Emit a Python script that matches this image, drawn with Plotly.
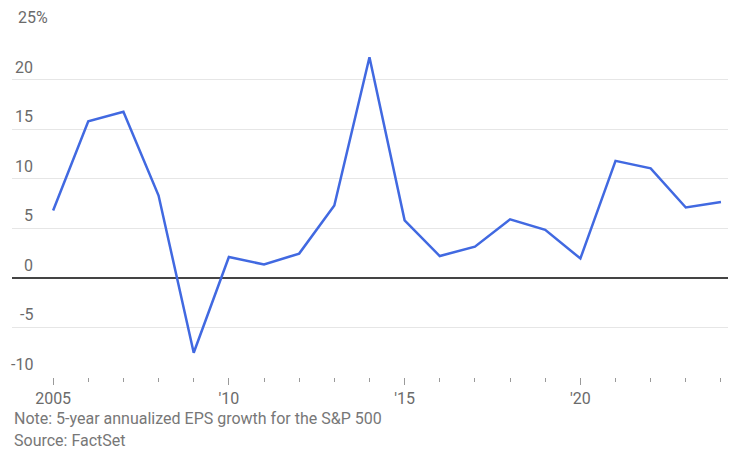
import plotly.graph_objects as go

years = list(range(2005, 2025))
eps_growth = [6.8, 15.8, 16.75, 8.3, -7.55, 2.1, 1.35, 2.45, 7.3, 22.25,
              5.8, 2.2, 3.15, 5.9, 4.85, 1.95, 11.8, 11.05, 7.1, 7.65]

y_ticks = [25, 20, 15, 10, 5, 0, -5, -10]
y_tick_text = ["25%", "20", "15", "10", "5", "0", "-5", "-10"]
x_major = [2005, 2010, 2015, 2020]
x_major_text = ["2005", "'10", "'15", "'20"]
note = "Note: 5-year annualized EPS growth for the S&P 500"
source = "Source: FactSet"

# page has an 8px body margin; figure sized to fill the rest of the window
W, H = 735, 445
ml, mr, mt, mb = 4, 15, 22, 76
pw = W - ml - mr
ph = H - mt - mb
plot_bottom = H - mb

fig = go.Figure()
fig.add_trace(go.Scatter(x=years, y=eps_growth, mode="lines",
                         line=dict(color="#4169E1", width=2.5),
                         hoverinfo="x+y", showlegend=False))

font_fam = "Roboto, Arial, sans-serif"
label_color = "#6b6b6b"

annotations = []
for v, t in zip(y_ticks, y_tick_text):
    if t.endswith("%"):
        annotations.append(dict(x=(8 - ml) / pw, xref="paper", y=v, yref="y",
                                text=t, showarrow=False, xanchor="left",
                                yanchor="bottom", yshift=1,
                                font=dict(family=font_fam, size=16, color=label_color)))
    else:
        annotations.append(dict(x=(27 - ml) / pw, xref="paper", y=v, yref="y",
                                text=t, showarrow=False, xanchor="right",
                                yanchor="bottom", yshift=1,
                                font=dict(family=font_fam, size=16, color=label_color)))

annotations.append(dict(x=(4 - ml) / pw, xref="paper", y=-(411 - plot_bottom) / ph, yref="paper",
                        text=note, showarrow=False, xanchor="left", yanchor="middle",
                        font=dict(family=font_fam, size=16, color="#777777")))
annotations.append(dict(x=(4 - ml) / pw, xref="paper", y=-(432 - plot_bottom) / ph, yref="paper",
                        text=source, showarrow=False, xanchor="left", yanchor="middle",
                        font=dict(family=font_fam, size=16, color="#777777")))

fig.update_layout(
    width=W, height=H,
    margin=dict(l=ml, r=mr, t=mt, b=mb),
    paper_bgcolor="white", plot_bgcolor="white",
    font=dict(family=font_fam, size=16, color=label_color),
    annotations=annotations,
    xaxis=dict(range=[2003.83, 2024.2], tickmode="array", tickvals=x_major,
               ticktext=x_major_text, ticks="outside", ticklen=7, tickwidth=1,
               tickcolor="#9a9a9a", showgrid=False, zeroline=False,
               showline=False, tickfont=dict(size=16, color=label_color),
               minor=dict(tickmode="array", tickvals=years, ticks="outside",
                          ticklen=4, tickwidth=1, tickcolor="#9a9a9a", showgrid=False)),
    yaxis=dict(range=[-10, 25], tickmode="array", tickvals=y_ticks,
               showticklabels=False, showgrid=True, gridcolor="#e6e6e6",
               gridwidth=1, zeroline=True, zerolinecolor="#444444",
               zerolinewidth=2, showline=False),
)

fig.write_html("out.html")
